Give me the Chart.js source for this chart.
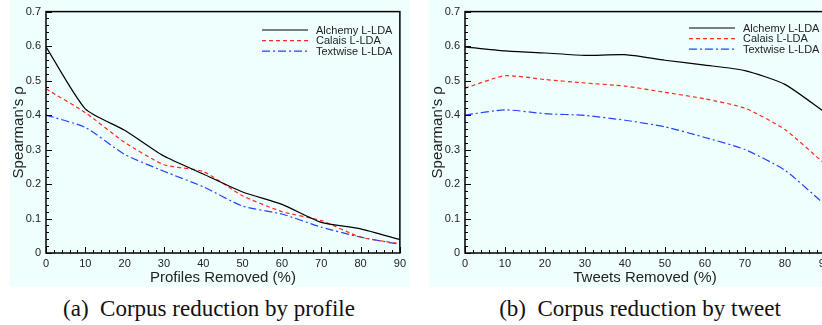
<!DOCTYPE html>
<html>
<head>
<meta charset="utf-8">
<script src="https://cdn.jsdelivr.net/npm/chart.js@4.4.0/dist/chart.umd.min.js"></script>
<style>
    body { margin: 0; background: #fff; }
    #page { position: relative; width: 822px; height: 325px; overflow: hidden; }
    .box { position: absolute; top: 0; height: 287px; }
    #boxA { left: 10px; width: 400px; }
    #boxB { left: 429px; width: 406px; }
    .caption {
        position: absolute; top: 296px; font-family: "Liberation Serif", serif;
        font-size: 23px; line-height: 26px; color: #111; white-space: nowrap; transform: translateX(-50%);
    }
</style>
</head>
<body>
<div id="page">
    <div class="box" id="boxA"><canvas id="chartA"></canvas></div>
    <div class="box" id="boxB"><canvas id="chartB"></canvas></div>
    <div class="caption" style="left:209px">(a)&nbsp; Corpus reduction by profile</div>
    <div class="caption" style="left:640px">(b)&nbsp; Corpus reduction by tweet</div>
</div>
<script>
// x values (percent removed)
const removed = [0, 10, 20, 30, 40, 50, 60, 70, 80, 90];

// (a) corpus reduction by profile
const profileAlchemy  = [0.598, 0.418, 0.356, 0.281, 0.229, 0.177, 0.141, 0.089, 0.070, 0.039];
const profileCalais   = [0.476, 0.407, 0.321, 0.256, 0.236, 0.166, 0.120, 0.094, 0.046, 0.027];
const profileTextwise = [0.400, 0.364, 0.286, 0.237, 0.192, 0.136, 0.113, 0.075, 0.046, 0.025];

// (b) corpus reduction by tweet
const tweetAlchemy  = [0.598, 0.586, 0.580, 0.573, 0.575, 0.559, 0.545, 0.529, 0.489, 0.408];
const tweetCalais   = [0.478, 0.514, 0.503, 0.493, 0.484, 0.466, 0.447, 0.420, 0.358, 0.258];
const tweetTextwise = [0.400, 0.415, 0.404, 0.399, 0.385, 0.366, 0.335, 0.300, 0.240, 0.140];

const seriesNames = ["Alchemy L-LDA", "Calais L-LDA", "Textwise L-LDA"];

const bgColor = "#effffe";
const font = "Liberation Sans";

// paint the light cyan panel, frame, inward ticks and legend
const panelPlugin = {
    id: "panel",
    beforeDraw(chart) {
        const ctx = chart.ctx;
        ctx.save();
        ctx.fillStyle = bgColor;
        ctx.fillRect(0, 0, chart.width, chart.height);
        ctx.restore();
    },
    afterDraw(chart) {
        const ctx = chart.ctx;
        const a = chart.chartArea;
        const xs = chart.scales.x, ys = chart.scales.y;
        ctx.save();
        ctx.strokeStyle = "#000";
        ctx.lineWidth = 1.5;
        ctx.strokeRect(a.left, a.top, a.right - a.left, a.bottom - a.top);
        ctx.lineWidth = 1;
        ctx.beginPath();
        for (let v = 0; v <= 90; v += 2) {
            const px = Math.round(xs.getPixelForValue(v)) + 0.5;
            const len = v % 10 === 0 ? 6 : 3;
            ctx.moveTo(px, a.bottom);
            ctx.lineTo(px, a.bottom - len);
        }
        for (let i = 0; i <= 35; i++) {
            const py = Math.round(ys.getPixelForValue(i * 0.02)) + 0.5;
            const len = i % 5 === 0 ? 6 : 3;
            ctx.moveTo(a.left, py);
            ctx.lineTo(a.left + len, py);
        }
        ctx.stroke();

        // legend
        const lg = chart.options.plugins.panel;
        ctx.font = "11px " + font;
        ctx.textBaseline = "middle";
        chart.data.datasets.forEach((ds, i) => {
            const y = lg.top + i * 10.6;
            ctx.strokeStyle = ds.borderColor;
            ctx.lineWidth = ds.borderWidth;
            ctx.setLineDash(ds.borderDash || []);
            ctx.beginPath();
            ctx.moveTo(lg.left, y);
            ctx.lineTo(lg.left + 46, y);
            ctx.stroke();
            ctx.setLineDash([]);
            ctx.fillStyle = "#222";
            ctx.fillText(ds.label, lg.left + 54, y + 0.5);
        });
        ctx.restore();
    }
};

function makeDatasets(a, c, t) {
    return [
        { label: seriesNames[0], data: a, borderColor: "#000000", borderWidth: 1.2, borderDash: [] },
        { label: seriesNames[1], data: c, borderColor: "#ff2a1a", borderWidth: 1.2, borderDash: [4, 3] },
        { label: seriesNames[2], data: t, borderColor: "#2244ff", borderWidth: 1.2, borderDash: [8, 3, 2, 3] }
    ];
}

function buildChart(id, title, datasets, legendLeft, legendTop) {
    return new Chart(document.getElementById(id), {
        type: "line",
        data: { labels: removed, datasets: datasets },
        plugins: [panelPlugin],
        options: {
            responsive: true,
            maintainAspectRatio: false,
            animation: false,
            layout: { padding: { left: 0, right: 7, top: 11, bottom: 0 } },
            elements: { point: { radius: 0 }, line: { tension: 0.2 } },
            plugins: {
                legend: { display: false },
                tooltip: { enabled: false },
                panel: { left: legendLeft, top: legendTop }
            },
            scales: {
                x: {
                    type: "linear", min: 0, max: 90,
                    ticks: { stepSize: 10, color: "#222", font: { family: font, size: 11 }, padding: 4, maxRotation: 0 },
                    grid: { display: false, drawTicks: false },
                    border: { display: false },
                    title: { display: true, text: title, color: "#222", font: { family: font, size: 15 }, padding: { top: 0, bottom: 0 } },
                    afterFit: s => { s.height = 34; }
                },
                y: {
                    min: 0, max: 0.7,
                    ticks: { stepSize: 0.1, color: "#222", font: { family: font, size: 11 }, padding: 5 },
                    grid: { display: false, drawTicks: false },
                    border: { display: false },
                    title: { display: true, text: "Spearman's ρ", color: "#222", font: { family: font, size: 15 }, padding: { top: 0, bottom: 2 } },
                    afterFit: s => { s.width = 36; }
                }
            }
        }
    });
}

buildChart("chartA", "Profiles Removed (%)", makeDatasets(profileAlchemy, profileCalais, profileTextwise), 252, 30);
buildChart("chartB", "Tweets Removed (%)", makeDatasets(tweetAlchemy, tweetCalais, tweetTextwise), 260, 28);
</script>
</body>
</html>
